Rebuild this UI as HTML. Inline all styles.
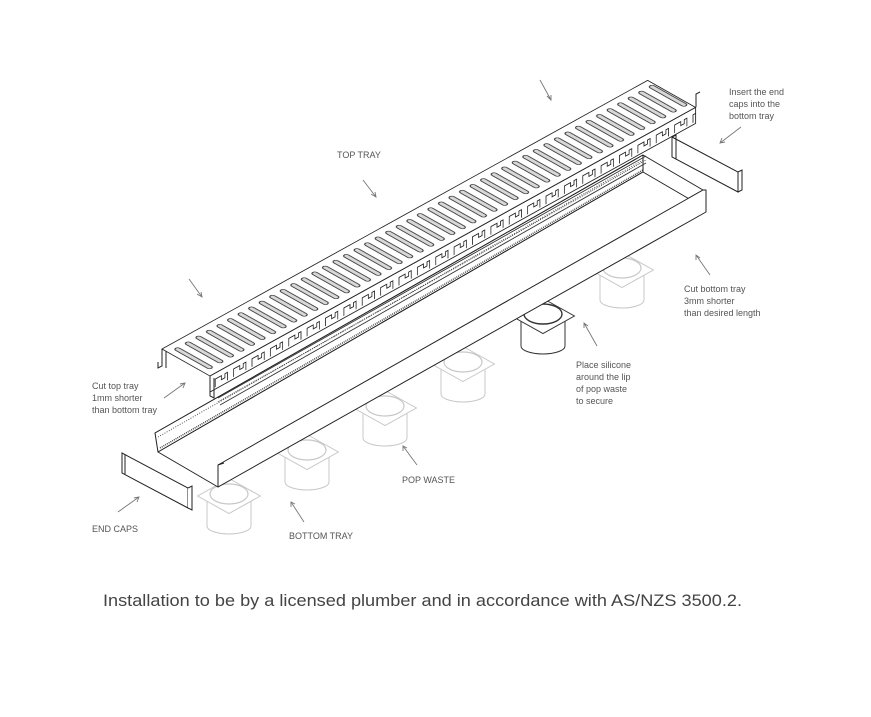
<!DOCTYPE html>
<html><head><meta charset="utf-8"><style>
html,body{margin:0;padding:0;background:#fff;}
svg{display:block;}
text{font-family:"Liberation Sans",sans-serif;fill:#555;}
</style></head><body>
<svg width="871" height="717" viewBox="0 0 871 717" xmlns="http://www.w3.org/2000/svg">
<defs>
<pattern id="slots" width="12.05" height="55" patternUnits="userSpaceOnUse" x="3">
<rect x="3.5" y="7" width="4.5" height="41" rx="2.2" fill="#d8d8d8" stroke="#222" stroke-width="0.9"/>
</pattern>
<pattern id="apat" width="21" height="16" patternUnits="userSpaceOnUse" x="4">
<path d="M2,14 V6 H9 V10 H13 V6 H16 V14" fill="none" stroke="#222" stroke-width="0.9"/>
</pattern>
<g id="popL">
<path d="M-22,0 V30 A22,8 0 0 0 22,30 V0" fill="#fff" stroke="#c8c8c8" stroke-width="1"/>
<polygon points="0,-17.5 31.4,0 0,17.5 -31.4,0" fill="#fff" stroke="#c8c8c8" stroke-width="1"/>
<ellipse cx="0" cy="-2" rx="19" ry="10" fill="#fff" stroke="#c8c8c8" stroke-width="1.2"/>
</g>
<g id="popD">
<path d="M-22,0 V30 A22,8 0 0 0 22,30 V0" fill="#fff" stroke="#333" stroke-width="1"/>
<polygon points="0,-17.5 31.4,0 0,17.5 -31.4,0" fill="#fff" stroke="#333" stroke-width="1"/>
<ellipse cx="0" cy="-2" rx="19" ry="10" fill="#fff" stroke="#333" stroke-width="1.4"/>
</g>
</defs>

<!-- pop wastes -->
<use href="#popL" x="622" y="270"/>
<use href="#popD" x="543" y="316"/>
<use href="#popL" x="463" y="364"/>
<use href="#popL" x="385" y="408"/>
<use href="#popL" x="307" y="452"/>
<use href="#popL" x="229" y="496"/>

<!-- bottom tray -->
<g stroke="#222" stroke-width="1" fill="#fff" stroke-linejoin="round">
<polygon points="155,433 643,155 703,190 218,465"/>
<polygon points="155,433 643,155 643,172 158,452"/>
<polygon points="158,452 643,172 703,207 218,487"/>
<polygon points="218,465 703,190 706,190 706,212 218,487"/>
<line x1="218" y1="465" x2="224" y2="463"/>
<line x1="218" y1="465" x2="218" y2="487"/>
<line x1="158" y1="437" x2="643" y2="160" stroke="#555" stroke-dasharray="1 1.5"/>
</g>
<line x1="160" y1="448" x2="643" y2="170" stroke="#444" stroke-width="1.5" stroke-dasharray="1 1"/>

<!-- rail under grate -->
<g stroke="#333" stroke-width="0.9" fill="none">
<line x1="218" y1="398" x2="646" y2="156"/>
<line x1="218" y1="402" x2="646" y2="160" stroke-dasharray="1 1"/>
<line x1="220" y1="405" x2="646" y2="163"/>
</g>

<!-- grate: front face -->
<g transform="matrix(0.875,-0.484,0,1,210,376)">
<rect x="0" y="0" width="555" height="16" fill="#fff" stroke="#222" stroke-width="1"/>
<rect x="0" y="0" width="555" height="16" fill="url(#apat)"/>
</g>
<!-- grate top surface -->
<g transform="matrix(0.875,-0.484,0.87,0.49,162,349)">
<rect x="0" y="0" width="555" height="55" fill="#fff" stroke="#222" stroke-width="1"/>
<rect x="0" y="0" width="555" height="55" fill="url(#slots)"/>
</g>
<!-- grate left legs -->
<g stroke="#222" stroke-width="1" fill="none">
<path d="M162,349 V366 L158,368 V362"/>
<path d="M166,351 V368"/>
<path d="M210,376 V396 L214,398 V378"/>
<path d="M696,107 V94 L700,92"/>
</g>

<!-- end caps -->
<g stroke="#222" stroke-width="1" fill="#fff">
<polygon points="122,453 188,488 188,508 122,473"/>
<line x1="125" y1="455" x2="125" y2="474"/>
<polyline points="188,488 192,486 192,510 188,508" />
<polygon points="672,137 738,172 738,192 672,157"/>
<polyline points="672,137 676,135 676,159" fill="none"/>
<polyline points="738,172 742,170 742,190 738,192" fill="none"/>
</g>

<!-- arrows -->
<g stroke="#777" stroke-width="0.9" fill="none">
<path d="M540,80 L551,100 M547,96 L551,100 L551,95"/>
<path d="M363,180 L376,197 M371,194 L376,197 L375,192"/>
<path d="M189,279 L202,297 M197,294 L202,297 L201,292"/>
<path d="M164,398 L185,383 M180,384 L185,383 L183,388"/>
<path d="M118,512 L139,497 M134,498 L139,497 L137,502"/>
<path d="M304,522 L291,502 M291,507 L291,502 L295,504"/>
<path d="M417,465 L403,446 M403,451 L403,446 L407,448"/>
<path d="M597,346 L584,323 M584,328 L584,323 L588,326"/>
<path d="M710,275 L696,255 M696,260 L696,255 L700,258"/>
<path d="M741,127 L720,143 M722,138 L720,143 L725,142"/>
</g>

<!-- labels -->
<g font-size="9">
<text x="337" y="158">TOP TRAY</text>
<text x="729" y="95">Insert  the  end</text>
<text x="729" y="107">caps  into  the</text>
<text x="729" y="119">bottom tray</text>
<text x="684" y="292">Cut bottom tray</text>
<text x="684" y="304">3mm shorter</text>
<text x="684" y="316">than desired length</text>
<text x="576" y="368">Place silicone</text>
<text x="576" y="380">around the lip</text>
<text x="576" y="392">of pop waste</text>
<text x="576" y="404">to secure</text>
<text x="92" y="389">Cut top tray</text>
<text x="92" y="401">1mm shorter</text>
<text x="92" y="413">than bottom tray</text>
<text x="402" y="483">POP WASTE</text>
<text x="92" y="532">END CAPS</text>
<text x="289" y="539">BOTTOM TRAY</text>
</g>
<text x="103" y="606" font-size="17" fill="#444" style="fill:#444" textLength="639" lengthAdjust="spacingAndGlyphs">Installation to be by a licensed plumber and in accordance with AS/NZS 3500.2.</text>
</svg>
</body></html>
